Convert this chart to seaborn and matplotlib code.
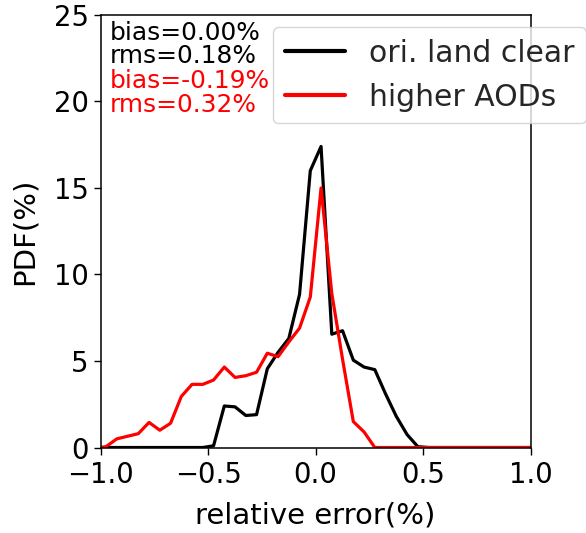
import numpy as np
import pandas as pd
import matplotlib
matplotlib.use("Agg")
import matplotlib.pyplot as plt
import seaborn as sns

# relative-error grid (bin centres, padded with the range ends)
rel_err = [-1.0,
           -0.975, -0.925, -0.875, -0.825, -0.775, -0.725, -0.675, -0.625, -0.575, -0.525,
           -0.475, -0.425, -0.375, -0.325, -0.275, -0.225, -0.175, -0.125, -0.075, -0.025,
           0.025, 0.075, 0.125, 0.175, 0.225, 0.275, 0.325, 0.375, 0.425, 0.475,
           0.525, 0.575, 0.625, 0.675, 0.725, 0.775, 0.825, 0.875, 0.925, 0.975,
           1.0]

# PDF (%) of the original land-clear retrievals
pdf_land_clear = [0.0,
                  0.0, 0.0, 0.0, 0.0, 0.0, 0.0, 0.0, 0.0, 0.0, 0.0,
                  0.1, 2.4, 2.35, 1.85, 1.9, 4.55, 5.5, 6.3, 8.85, 16.0,
                  17.4, 6.55, 6.75, 5.05, 4.65, 4.5, 3.1, 1.8, 0.75, 0.05,
                  0.0, 0.0, 0.0, 0.0, 0.0, 0.0, 0.0, 0.0, 0.0, 0.0,
                  0.0]

# PDF (%) for the higher-AOD cases
pdf_higher_aod = [0.0,
                  0.05, 0.5, 0.65, 0.8, 1.45, 1.0, 1.4, 2.95, 3.65, 3.65,
                  3.9, 4.65, 4.05, 4.15, 4.35, 5.45, 5.25, 6.1, 6.9, 8.7,
                  15.0, 8.9, 5.1, 1.5, 0.9, 0.0, 0.0, 0.0, 0.0, 0.0,
                  0.0, 0.0, 0.0, 0.0, 0.0, 0.0, 0.0, 0.0, 0.0, 0.0,
                  0.0]

series_names = ["ori. land clear", "higher AODs"]
series_colors = ["black", "red"]

stats_lines = ["bias=0.00%", "rms=0.18%", "bias=-0.19%", "rms=0.32%"]
stats_colors = ["black", "black", "red", "red"]

x_ticks = [-1.0, -0.5, 0.0, 0.5, 1.0]
y_ticks = [0, 5, 10, 15, 20, 25]

df = pd.concat([
    pd.DataFrame({"err": rel_err, "pdf": pdf_land_clear, "case": series_names[0]}),
    pd.DataFrame({"err": rel_err, "pdf": pdf_higher_aod, "case": series_names[1]}),
], ignore_index=True)

sns.set_style("ticks")
plt.rcParams["font.family"] = ["DejaVu Sans"]

fig = plt.figure(figsize=(5.86, 5.33), dpi=100)
ax = fig.add_axes([0.1718, 0.1604, 0.9056 - 0.1718, 0.9719 - 0.1604])

sns.lineplot(data=df, x="err", y="pdf", hue="case", hue_order=series_names,
             palette=dict(zip(series_names, series_colors)),
             estimator=None, linewidth=2.3, ax=ax)

ax.set_xlim(-1.0, 1.0)
ax.set_ylim(0, 25)
ax.set_xticks(x_ticks)
ax.set_yticks(y_ticks)
ax.tick_params(axis="both", labelsize=19.8, length=5, width=1.0, color="black",
               labelcolor="black", direction="out")
ax.tick_params(axis="x", pad=5)
for sp in ax.spines.values():
    sp.set_visible(True)
    sp.set_color("black")
    sp.set_linewidth(1.1)

ax.set_xlabel("relative error(%)", fontsize=21, color="black", labelpad=9)
ax.set_ylabel("PDF(%)", fontsize=21, color="black", labelpad=11)

handles, labels = ax.get_legend_handles_labels()
leg = ax.legend(handles, labels, loc="upper left", bbox_to_anchor=(0.401, 0.973),
                borderaxespad=0, fontsize=21.5, frameon=True, fancybox=True,
                framealpha=0.8, edgecolor="#cccccc")
for line in leg.get_lines():
    line.set_linewidth(3.0)

y_pos = [0.942, 0.889, 0.832, 0.775]
for txt, col, yy in zip(stats_lines, stats_colors, y_pos):
    ax.text(0.021, yy, txt, transform=ax.transAxes, fontsize=17.9, color=col,
            ha="left", va="baseline")

fig.savefig("out.png", dpi=100)
